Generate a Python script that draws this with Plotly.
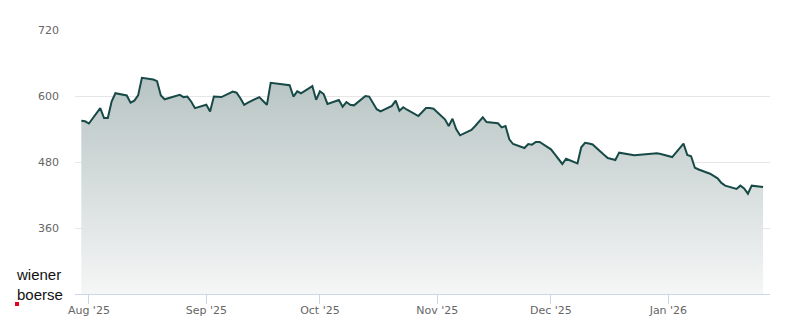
import plotly.graph_objects as go

dates = [
    "2025-07-30", "2025-07-31", "2025-08-01", "2025-08-04", "2025-08-05", "2025-08-06", "2025-08-07", "2025-08-08",
    "2025-08-11", "2025-08-12", "2025-08-13", "2025-08-14", "2025-08-15", "2025-08-18", "2025-08-19", "2025-08-20",
    "2025-08-21", "2025-08-22", "2025-08-25", "2025-08-26", "2025-08-27", "2025-08-28", "2025-08-29",
    "2025-09-01", "2025-09-02", "2025-09-03", "2025-09-04", "2025-09-05", "2025-09-08", "2025-09-09", "2025-09-10",
    "2025-09-11", "2025-09-12", "2025-09-15", "2025-09-16", "2025-09-17", "2025-09-18", "2025-09-19", "2025-09-22",
    "2025-09-23", "2025-09-24", "2025-09-25", "2025-09-26", "2025-09-29", "2025-09-30",
    "2025-10-01", "2025-10-02", "2025-10-03", "2025-10-06", "2025-10-07", "2025-10-08", "2025-10-09", "2025-10-10",
    "2025-10-13", "2025-10-14", "2025-10-15", "2025-10-16", "2025-10-17", "2025-10-20", "2025-10-21", "2025-10-22",
    "2025-10-23", "2025-10-24", "2025-10-27", "2025-10-28", "2025-10-29", "2025-10-30", "2025-10-31",
    "2025-11-03", "2025-11-04", "2025-11-05", "2025-11-06", "2025-11-07", "2025-11-10", "2025-11-11", "2025-11-12",
    "2025-11-13", "2025-11-14", "2025-11-17", "2025-11-18", "2025-11-19", "2025-11-20", "2025-11-21", "2025-11-24",
    "2025-11-25", "2025-11-26", "2025-11-27", "2025-11-28",
    "2025-12-01", "2025-12-02", "2025-12-03", "2025-12-04", "2025-12-05", "2025-12-08", "2025-12-09", "2025-12-10",
    "2025-12-11", "2025-12-12", "2025-12-15", "2025-12-16", "2025-12-17", "2025-12-18", "2025-12-19", "2025-12-22",
    "2025-12-23", "2025-12-29", "2025-12-30",
    "2026-01-02", "2026-01-05", "2026-01-06", "2026-01-07", "2026-01-08", "2026-01-09", "2026-01-12", "2026-01-13",
    "2026-01-14", "2026-01-15", "2026-01-16", "2026-01-19", "2026-01-20", "2026-01-21", "2026-01-22", "2026-01-23",
    "2026-01-26",
]

prices = [
    555.0, 554.0, 550.0, 578.0, 560.0, 560.0, 590.0, 605.0,
    601.0, 588.0, 591.5, 601.0, 633.0, 630.0, 627.0, 601.0,
    594.0, 596.0, 602.0, 598.0, 599.0, 590.0, 578.0,
    584.0, 572.0, 599.0, 598.0, 598.0, 608.0, 606.0, 596.0,
    584.0, 588.0, 598.0, 591.0, 584.0, 624.0, 623.0, 621.0,
    619.5, 599.0, 608.5, 605.0, 618.0, 593.0,
    608.5, 603.6, 585.5, 592.7, 580.5, 589.0, 584.0, 583.0,
    600.0, 599.0, 588.0, 576.0, 572.0, 582.0, 591.5, 573.0,
    579.5, 575.0, 563.6, 571.0, 578.0, 578.0, 577.0,
    557.6, 545.5, 558.7, 539.5, 528.5, 538.4, 545.5, 553.8,
    561.3, 552.7, 550.4, 543.0, 545.5, 521.3, 512.7, 505.5,
    512.7, 511.5, 516.4, 516.4,
    503.0, 494.5, 485.5, 476.4, 486.0, 477.6, 506.7, 515.0,
    513.6, 511.8, 493.3, 487.3, 485.5, 483.6, 497.0, 492.7,
    492.2, 495.8, 494.5,
    489.0, 513.3, 492.7, 490.4, 469.6, 466.4, 458.7, 454.6,
    450.4, 442.0, 437.0, 431.0, 437.0, 432.0, 422.4, 437.0,
    434.5,
]

x_tick_vals = ["2025-08-01", "2025-09-01", "2025-10-01", "2025-11-01", "2025-12-01", "2026-01-01"]
x_tick_text = ["Aug '25", "Sep '25", "Oct '25", "Nov '25", "Dec '25", "Jan '26"]
y_tick_vals = [360, 480, 600, 720]
y_range = [240, 720]
x_range = ["2025-07-28 08:00", "2026-01-27 20:00"]

LINE = "#174a47"
FONT = "DejaVu Sans"

# plot area in pixels: x 75..770, y 30..294
PL, PR, PT, PB = 75, 770, 30, 294
PW, PH = PR - PL, PB - PT


def px(xp):
    return (xp - PL) / PW


def py(yp):
    return (PB - yp) / PH


fig = go.Figure()
fig.add_trace(go.Scatter(
    x=dates, y=prices, mode="lines",
    line=dict(color=LINE, width=2),
    fill="tozeroy",
    fillgradient=dict(
        type="vertical",
        start=240, stop=635,
        colorscale=[[0, "rgb(245,246,246)"], [1, "rgb(183,196,195)"]],
    ),
    hoverinfo="skip",
))

fig.update_layout(
    width=800, height=324,
    margin=dict(l=PL, r=800 - PR, t=PT, b=324 - PB, autoexpand=False),
    paper_bgcolor="white", plot_bgcolor="white",
    showlegend=False,
    font=dict(family=FONT, size=11, color="#666666"),
    xaxis=dict(
        type="date", range=x_range, automargin=False,
        tickvals=x_tick_vals, ticktext=x_tick_text,
        showgrid=False, zeroline=False,
        showline=True, linecolor="#ccd6eb", linewidth=1,
        ticks="outside", ticklen=9, tickcolor="#ccd6eb", tickwidth=1,
        ticklabelstandoff=-3,
        tickfont=dict(family=FONT, size=11, color="#666666"),
    ),
    yaxis=dict(
        range=y_range, tickvals=y_tick_vals, automargin=False,
        showgrid=True, gridcolor="#e6e6e6", gridwidth=1,
        zeroline=False, showline=False, ticks="",
        ticklabelstandoff=15,
        tickfont=dict(family=FONT, size=11, color="#666666"),
    ),
    annotations=[
        dict(text="wiener<br>boerse", xref="paper", yref="paper",
             x=px(14), y=py(284), xanchor="left", yanchor="middle", align="left",
             showarrow=False, font=dict(family="Liberation Sans", size=15, color="#111111")),
    ],
    shapes=[
        dict(type="rect", xref="paper", yref="paper",
             x0=px(15), x1=px(19), y0=py(306), y1=py(302),
             fillcolor="#e2001a", line=dict(width=0)),
    ],
)

fig.write_html("out.html")
